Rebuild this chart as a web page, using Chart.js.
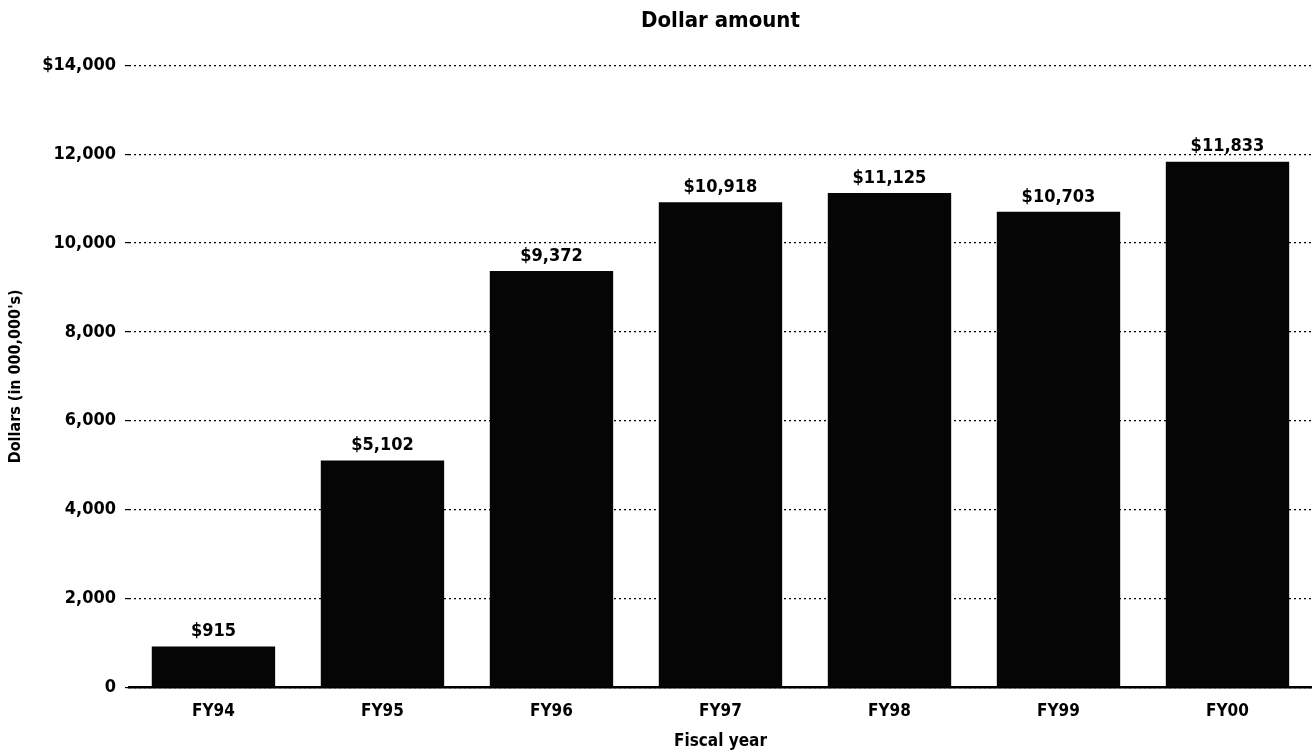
<!DOCTYPE html>
<html>
<head>
<meta charset="utf-8">
<script src="https://cdn.jsdelivr.net/npm/chart.js@4"></script>
<style>
  body { margin: 0; background: #fff; }
  #wrap { width: 1312px; height: 752px; }
</style>
</head>
<body>
<div id="wrap"><canvas id="amountChart"></canvas></div>
<script>
const years = ["FY94", "FY95", "FY96", "FY97", "FY98", "FY99", "FY00"];
const amounts = [915, 5102, 9372, 10918, 11125, 10703, 11833];
const amountLabels = ["$915", "$5,102", "$9,372", "$10,918", "$11,125", "$10,703", "$11,833"];
const yTickLabels = ["0", "2,000", "4,000", "6,000", "8,000", "10,000", "12,000", "$14,000"];

const FONT = "'Liberation Sans Narrow', 'DejaVu Sans Condensed', 'Roboto', sans-serif";

// labels on top of each bar
const barLabels = {
    id: "barLabels",
    afterDatasetsDraw(chart) {
        const ctx = chart.ctx;
        const meta = chart.getDatasetMeta(0);
        ctx.save();
        ctx.font = "bold 18px " + FONT;
        ctx.fillStyle = "#000";
        ctx.textAlign = "center";
        ctx.textBaseline = "bottom";
        meta.data.forEach((bar, i) => {
            ctx.fillText(amountLabels[i], bar.x, bar.y - 6);
        });
        ctx.restore();
    }
};

const ctx = document.getElementById("amountChart").getContext("2d");

const amountChart = new Chart(ctx, {
    type: "bar",
    data: {
        labels: years,
        datasets: [{
            label: "Dollar amount",
            data: amounts,
            backgroundColor: "#050505",
            barPercentage: 0.73,
            categoryPercentage: 1.0,
        }],
    },
    options: {
        responsive: true,
        maintainAspectRatio: false,
        animation: false,
        layout: { padding: { top: 8, right: 0, left: 6, bottom: 0 } },
        plugins: {
            legend: { display: false },
            tooltip: { enabled: false },
            title: {
                display: true,
                text: "Dollar amount",
                fullSize: false,
                color: "#000",
                font: { family: FONT, size: 22, weight: "bold" },
                padding: { top: 0, bottom: 31 },
            },
        },
        scales: {
            x: {
                grid: { display: false },
                border: { display: true, color: "#000", width: 2.5 },
                ticks: {
                    color: "#000",
                    font: { family: FONT, size: 17, weight: "bold" },
                    padding: 6,
                },
                title: {
                    display: true,
                    text: "Fiscal year",
                    color: "#000",
                    font: { family: FONT, size: 17, weight: "bold" },
                    padding: { top: 4, bottom: 0 },
                },
            },
            y: {
                min: 0,
                max: 14000,
                border: { display: false, dash: [2, 3] },
                grid: {
                    color: "#000",
                    lineWidth: 1.2,
                    tickLength: 4,
                },
                ticks: {
                    stepSize: 2000,
                    color: "#000",
                    font: { family: FONT, size: 18, weight: "bold" },
                    padding: 9,
                    callback: (value, index) => yTickLabels[index],
                },
                title: {
                    display: true,
                    text: "Dollars (in 000,000's)",
                    color: "#000",
                    font: { family: FONT, size: 16, weight: "bold" },
                    padding: { top: 0, bottom: 8 },
                },
            },
        },
    },
    plugins: [barLabels],
});
</script>
</body>
</html>
